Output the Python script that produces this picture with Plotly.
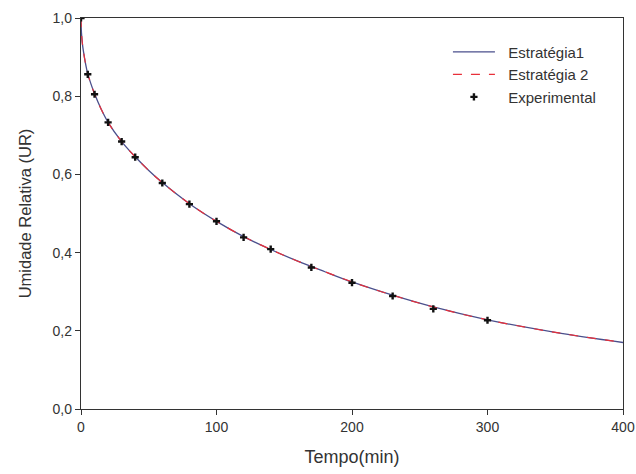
import plotly.graph_objects as go

# Experimental data
t_exp = [0, 5, 10, 20, 30, 40, 60, 80, 100, 120, 140, 170, 200, 230, 260, 300]
ur_exp = [1.0, 0.856, 0.805, 0.733, 0.684, 0.644, 0.578, 0.524, 0.480, 0.439,
          0.409, 0.362, 0.323, 0.289, 0.256, 0.227]

# Model curves
t_mod = [0, 0.25, 0.5, 1, 1.7, 3, 5, 7.5, 10, 15, 20, 30, 40, 50, 60, 80, 100,
         120, 140, 160, 180, 200, 230, 260, 300, 350, 400]
ur_est1 = [1.0, 0.968, 0.955, 0.935, 0.917, 0.89, 0.857, 0.83, 0.806, 0.766,
           0.733, 0.684, 0.645, 0.610, 0.579, 0.525, 0.480, 0.441, 0.408,
           0.378, 0.351, 0.325, 0.291, 0.261, 0.228, 0.196, 0.170]
ur_est2 = [1.0, 0.968, 0.955, 0.935, 0.917, 0.89, 0.857, 0.83, 0.806, 0.766,
           0.733, 0.684, 0.645, 0.610, 0.579, 0.525, 0.480, 0.441, 0.408,
           0.378, 0.351, 0.325, 0.291, 0.261, 0.228, 0.196, 0.170]

x_ticks = [0, 100, 200, 300, 400]
y_ticks = [0.0, 0.2, 0.4, 0.6, 0.8, 1.0]

NB = "\u00a0\u00a0"

fig = go.Figure()
fig.add_trace(go.Scatter(x=t_mod, y=ur_est1, mode="lines", name=NB + "Estratégia1",
                         line=dict(color="#4a4f8c", width=1.3, shape="spline")))
fig.add_trace(go.Scatter(x=t_mod, y=ur_est2, mode="lines", name=NB + "Estratégia 2",
                         line=dict(color="#e8303a", width=1.2, dash="dash", shape="spline")))
fig.add_trace(go.Scatter(x=t_exp, y=ur_exp, mode="markers", name=NB + "Experimental",
                         marker=dict(symbol="cross", size=6, color="#111111")))

FONT = "Liberation Sans, Arial"
axis_common = dict(showline=True, linecolor="#333333", linewidth=1.3, mirror=True,
                   ticks="outside", ticklen=5, tickcolor="#333333", showgrid=False,
                   zeroline=False, automargin=False, ticklabeloverflow="allow",
                   tickfont=dict(family=FONT, size=14, color="#333333"))

fig.update_layout(
    width=636, height=474,
    margin=dict(l=81, r=13, t=18, b=65),
    paper_bgcolor="white", plot_bgcolor="white",
    separators=", ",
    font=dict(family=FONT, color="#333333"),
    xaxis=dict(range=[0, 400], tickvals=x_ticks,
               title=dict(text="Tempo(min)", font=dict(size=18), standoff=16),
               **axis_common),
    yaxis=dict(range=[0, 1.0], tickvals=y_ticks, tickformat=".1f",
               title=dict(text="Umidade Relativa (UR)", font=dict(size=16.5), standoff=16),
               **axis_common),
    legend=dict(x=0.677, y=0.955, xanchor="left", yanchor="top",
                bgcolor="rgba(0,0,0,0)", font=dict(size=15, color="#333333"),
                tracegroupgap=0, itemwidth=42),
    showlegend=True,
)

fig.write_html("out.html")
